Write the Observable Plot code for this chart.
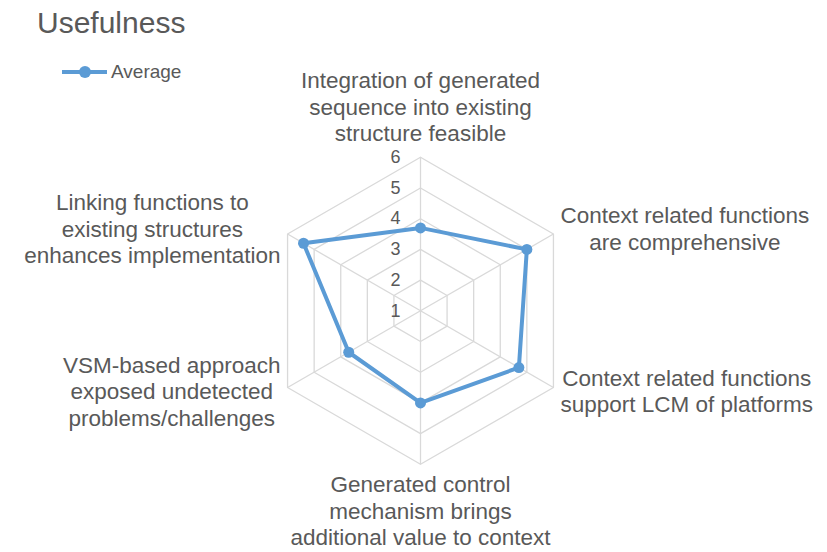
<!DOCTYPE html>
<html><head><meta charset="utf-8">
<script src="https://cdn.jsdelivr.net/npm/d3@7"></script>
<script src="https://cdn.jsdelivr.net/npm/@observablehq/plot@0.6"></script>
<style>
body{margin:0;background:#fff;}
#wrap{position:relative;width:827px;height:552px;font-family:"Liberation Sans",Arial,sans-serif;color:#595959;overflow:hidden;}
#chart{position:absolute;left:0;top:0;}
#title{position:absolute;left:37px;top:7.6px;font-size:30px;line-height:30px;white-space:nowrap;}
#legend{position:absolute;left:62px;top:61px;font-size:19px;display:flex;align-items:center;white-space:nowrap;}
#legend span{margin-left:3px;}
</style></head><body>
<div id="wrap"><div id="chart"></div><div id="title">Usefulness</div><div id="legend"><svg width="46" height="20"><line x1="0" y1="10" x2="45" y2="10" stroke="#5B9BD5" stroke-width="4"/><circle cx="23" cy="10" r="6" fill="#5B9BD5"/></svg><span>Average</span></div></div>
<script>
const categories = [
  "Integration of generated\nsequence into existing\nstructure feasible",
  "Context related functions\nare comprehensive",
  "Context related functions\nsupport LCM of platforms",
  "Generated control\nmechanism brings\nadditional value to context",
  "VSM-based approach\nexposed undetected\nproblems/challenges",
  "Linking functions to\nexisting structures\nenhances implementation"
];
const average = [3.7, 5.0, 4.7, 4.0, 3.7, 5.4];
const tickValues = [1, 2, 3, 4, 5, 6];
const axisMin = 1, axisMax = 6;

const W = 827, H = 552;
const U = 30.7;            // pixels per value unit
const CX = 420, CY = 310.3; // plot centre in pixels
const R = axisMax - axisMin;
const n = categories.length;
const ang = i => i * 2 * Math.PI / n;
const px = (r, i) => r * Math.sin(ang(i));
const py = (r, i) => r * Math.cos(ang(i));

const labelFont = 22.5;
const ctx = document.createElement("canvas").getContext("2d");
ctx.font = `${labelFont}px "Liberation Sans", Arial, sans-serif`;
const maxW = s => Math.max(...s.split("\n").map(l => ctx.measureText(l).width));

// grid rings
const rings = [];
for (const t of tickValues.slice(1)) {
  for (let i = 0; i <= n; i++) rings.push({ring: t, x: px(t - axisMin, i % n), y: py(t - axisMin, i % n)});
}
const spokes = categories.map((c, i) => ({x2: px(R, i), y2: py(R, i)}));
const series = average.map((v, i) => ({cat: categories[i], x: px(v - axisMin, i), y: py(v - axisMin, i)}));
const tickData = tickValues.map(t => ({t, x: 0, y: t - axisMin}));

const labels = categories.map((c, i) => {
  const s = Math.sin(ang(i));
  const side = Math.abs(s) < 1e-6 ? 0 : Math.sign(s);
  const pos = side !== 0 ? "side" : (py(1, i) > 0 ? "top" : "bottom");
  const gap = (pos === "top" ? 16 : 9) / U;
  return {
    text: c, i, side, pos,
    x: px(R + gap, i) + side * (maxW(c) / 2 - 0.8) / U,
    y: py(R + gap, i)
  };
});

const textStyle = {fill: "#595959", fontSize: labelFont, lineHeight: 1.18, textAnchor: "middle"};

const chart = Plot.plot({
  width: W, height: H,
  marginLeft: 0, marginRight: 0, marginTop: 0, marginBottom: 0,
  x: {domain: [-CX / U, (W - CX) / U], axis: null},
  y: {domain: [-(H - CY) / U, CY / U], axis: null},
  style: {fontFamily: '"Liberation Sans", Arial, sans-serif', background: "transparent"},
  marks: [
    Plot.line(rings, {x: "x", y: "y", z: "ring", stroke: "#d9d9d9", strokeWidth: 1.3}),
    Plot.link(spokes, {x1: 0, y1: 0, x2: "x2", y2: "y2", stroke: "#d9d9d9", strokeWidth: 1.3}),
    Plot.line(series, {x: "x", y: "y", curve: "linear-closed", stroke: "#5B9BD5", strokeWidth: 4, strokeLinejoin: "round"}),
    Plot.dot(series, {x: "x", y: "y", r: 5.5, fill: "#5B9BD5", stroke: "none"}),
    Plot.text(tickData, {x: "x", y: "y", text: "t", textAnchor: "end", dx: -20, fill: "#595959", fontSize: 18}),
    Plot.text(labels.filter(d => d.pos === "side"), {x: "x", y: "y", text: "text", lineAnchor: "middle", dy: -1.5, ...textStyle}),
    Plot.text(labels.filter(d => d.pos === "top"), {x: "x", y: "y", text: "text", lineAnchor: "bottom", ...textStyle}),
    Plot.text(labels.filter(d => d.pos === "bottom"), {x: "x", y: "y", text: "text", lineAnchor: "top", ...textStyle})
  ]
});
document.getElementById("chart").appendChild(chart);
</script>
</body></html>
